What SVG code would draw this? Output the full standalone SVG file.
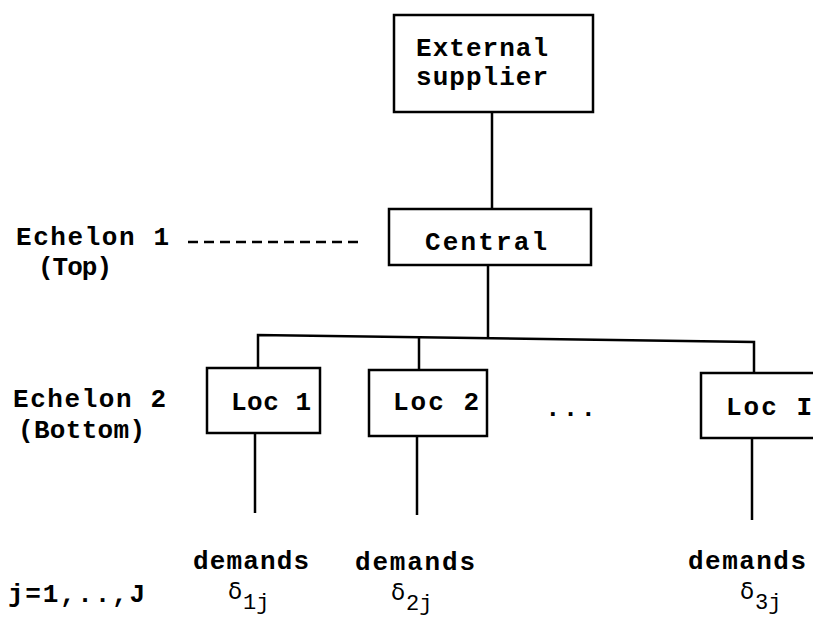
<svg xmlns="http://www.w3.org/2000/svg" width="813" height="621" viewBox="0 0 813 621">
<style>
.t{font-family:"Liberation Mono","Courier New",monospace;font-size:26px;font-weight:bold;fill:#000}
.g{font-family:"DejaVu Sans","Liberation Sans",sans-serif;font-size:23px;fill:#000}
.s{font-family:"Liberation Mono","Courier New",monospace;font-size:22px;fill:#000}
.box{fill:#fff;stroke:#000;stroke-width:2.5}
.ln{fill:none;stroke:#000;stroke-width:2.5}
</style>
<rect width="813" height="621" fill="#fff"/>
<g id="connectors">
<line class="ln" x1="492" y1="112" x2="492" y2="209"/>
<line class="ln" x1="488" y1="265" x2="488" y2="337"/>
<polyline class="ln" points="258,368 258,335 754,342 754,373"/>
<line class="ln" x1="419" y1="336" x2="419" y2="370"/>
<line class="ln" x1="255" y1="433" x2="255" y2="513"/>
<line class="ln" x1="417" y1="436" x2="417" y2="515"/>
<line class="ln" x1="752" y1="438" x2="752" y2="520"/>
<line class="ln" x1="188" y1="242" x2="362" y2="242" stroke-dasharray="10,6"/>
</g>
<g id="external">
<rect class="box" x="394" y="15" width="199" height="97"/>
<text class="t" x="416" y="56" textLength="132" lengthAdjust="spacing">External</text>
<text class="t" x="416" y="85" textLength="132" lengthAdjust="spacing">supplier</text>
</g>
<g id="central">
<rect class="box" x="389" y="209" width="202" height="56"/>
<text class="t" x="425" y="250" textLength="122" lengthAdjust="spacing">Central</text>
</g>
<g id="loc1">
<rect class="box" x="207" y="368" width="113" height="65"/>
<text class="t" x="231" y="410" textLength="80" lengthAdjust="spacing">Loc 1</text>
</g>
<g id="loc2">
<rect class="box" x="369" y="370" width="118" height="66"/>
<text class="t" x="393" y="410" textLength="86" lengthAdjust="spacing">Loc 2</text>
</g>
<g id="locI">
<rect class="box" x="701" y="373" width="130" height="65"/>
<text class="t" x="726" y="415" textLength="86" lengthAdjust="spacing">Loc I</text>
</g>
<g id="labels">
<text class="t" x="16" y="245" textLength="153" lengthAdjust="spacing">Echelon 1</text>
<text class="t" x="38" y="275" textLength="74" lengthAdjust="spacing">(Top)</text>
<text class="t" x="13" y="407" textLength="153" lengthAdjust="spacing">Echelon 2</text>
<text class="t" x="18" y="438" textLength="127" lengthAdjust="spacing">(Bottom)</text>
<text class="t" x="545" y="416" textLength="51" lengthAdjust="spacing">...</text>
<text class="t" x="8" y="602" textLength="137" lengthAdjust="spacing">j=1,..,J</text>
</g>
<g id="demand1">
<text class="t" x="193" y="569" textLength="116" lengthAdjust="spacing">demands</text>
<text class="g" x="228" y="599">δ</text><text class="s" x="243" y="609">1j</text>
</g>
<g id="demand2">
<text class="t" x="355" y="570" textLength="120" lengthAdjust="spacing">demands</text>
<text class="g" x="391" y="600">δ</text><text class="s" x="406" y="610">2j</text>
</g>
<g id="demand3">
<text class="t" x="688" y="569" textLength="118" lengthAdjust="spacing">demands</text>
<text class="g" x="740" y="599">δ</text><text class="s" x="755" y="609">3j</text>
</g>
</svg>
